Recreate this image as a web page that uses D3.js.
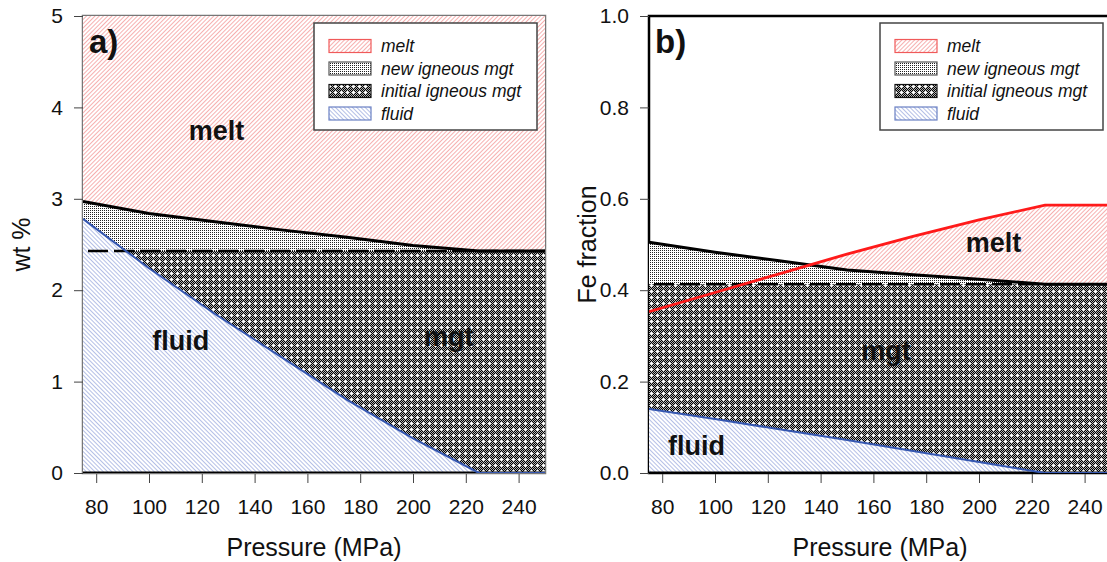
<!DOCTYPE html>
<html>
<head>
<meta charset="utf-8">
<script src="https://cdn.jsdelivr.net/npm/d3@7"></script>
<style>
  body { margin: 0; background: #fff; }
  svg text { font-family: 'Liberation Sans', Arial, sans-serif; fill: #111; }
</style>
</head>
<body>
<div id="app"></div>
<script>
// pressure grid (MPa)
const pressure = [75, 100, 125, 150, 175, 200, 225, 250];

// panel a: wt %
const wtMeltTop = [5, 5, 5, 5, 5, 5, 5, 5];
const wtUpper = [2.97, 2.84, 2.75, 2.66, 2.58, 2.49, 2.43, 2.43];
const wtInitial = [2.43, 2.43, 2.43, 2.43, 2.43, 2.43, 2.43, 2.43];
const wtFluid = [2.78, 2.24, 1.74, 1.27, 0.8, 0.38, 0.0, 0.0];

// panel b: Fe fraction
const feMelt = [0.353, 0.395, 0.437, 0.479, 0.518, 0.554, 0.586, 0.586];
const feUpper = [0.505, 0.483, 0.464, 0.444, 0.434, 0.424, 0.413, 0.413];
const feInitial = [0.413, 0.413, 0.413, 0.413, 0.413, 0.413, 0.413, 0.413];
const feFluid = [0.14, 0.118, 0.095, 0.072, 0.048, 0.024, 0.0, 0.0];

const xTicks = [80, 100, 120, 140, 160, 180, 200, 220, 240];
const wtTicks = [0, 1, 2, 3, 4, 5];
const feTicks = [0, 0.2, 0.4, 0.6, 0.8, 1.0];
const legendLabels = ['melt', 'new igneous mgt', 'initial igneous mgt', 'fluid'];

const svg = d3.select('#app')
  .append('svg')
  .attr('width', 1107)
  .attr('height', 562);

const defs = svg.append('defs');

/**
 * Hatch pattern made of thin rotated stripes
 */
const makeHatch = (id, color, angle) => {
  const pat = defs.append('pattern')
    .attr('id', id)
    .attr('patternUnits', 'userSpaceOnUse')
    .attr('width', 3).attr('height', 3)
    .attr('patternTransform', `rotate(${angle})`);
  pat.append('rect').attr('width', 3).attr('height', 3).attr('fill', '#ffffff');
  pat.append('rect').attr('width', 1).attr('height', 3).attr('fill', color);
};

/**
 * Build the fill patterns used by the areas and the legend
 */
const makePatterns = () => {
  makeHatch('hatch-melt', '#f6b0b0', 45);
  makeHatch('hatch-fluid', '#b4bfe6', -45);

  // stipple for new igneous mgt
  const stip = defs.append('pattern')
    .attr('id', 'dots-new')
    .attr('patternUnits', 'userSpaceOnUse')
    .attr('width', 4).attr('height', 4);
  stip.append('rect').attr('width', 4).attr('height', 4).attr('fill', '#fff');
  [[0, 0], [2, 0], [0, 2], [2, 2]].forEach(([px, py]) => {
    stip.append('rect').attr('x', px).attr('y', py)
      .attr('width', 1).attr('height', 1).attr('fill', '#222');
  });

  // dark checker with white crosses for initial igneous mgt
  const dark = defs.append('pattern')
    .attr('id', 'dots-init')
    .attr('patternUnits', 'userSpaceOnUse')
    .attr('width', 6).attr('height', 6);
  dark.append('rect').attr('width', 6).attr('height', 6).attr('fill', '#000');
  for (let i = 0; i < 6; i++) {
    for (let j = 0; j < 6; j++) {
      if ((i + j) % 2 === 0) {
        dark.append('rect').attr('x', i).attr('y', j)
          .attr('width', 1).attr('height', 1).attr('fill', '#b4b4b4');
      }
    }
  }
  dark.append('rect').attr('x', 2).attr('y', 3).attr('width', 3).attr('height', 1).attr('fill', '#fff');
  dark.append('rect').attr('x', 3).attr('y', 2).attr('width', 1).attr('height', 3).attr('fill', '#fff');
};

/**
 * Draw one panel
 */
const drawPanel = (p) => {
  const top = 16;
  const bottom = 473;
  const width = 462;

  const x = d3.scaleLinear().domain([75, 250]).range([p.left, p.left + width]);
  const y = d3.scaleLinear().domain(p.yDomain).range([bottom, top]);

  const g = svg.append('g').attr('id', p.id);

  defs.append('clipPath')
    .attr('id', `clip-${p.id}`)
    .append('rect')
    .attr('x', p.left).attr('y', top)
    .attr('width', width).attr('height', bottom - top);

  // box first, fills cover its inner half
  g.append('rect')
    .attr('x', p.left).attr('y', top)
    .attr('width', width).attr('height', bottom - top)
    .attr('fill', 'none')
    .attr('stroke', p.boxColor)
    .attr('stroke-width', 2.5);

  const body = g.append('g').attr('clip-path', `url(#clip-${p.id})`);

  const rows = pressure.map((P, i) => ({
    P: P,
    melt: p.melt[i],
    upper: p.upper[i],
    init: p.init[i],
    fluid: p.fluid[i]
  }));

  const area = (key) => d3.area()
    .x((d) => x(d.P))
    .y0(y(0))
    .y1((d) => y(d[key]));
  const line = (key) => d3.line()
    .x((d) => x(d.P))
    .y((d) => y(d[key]));

  body.append('path').attr('d', area('melt')(rows)).attr('fill', 'url(#hatch-melt)');
  body.append('path').attr('d', area('upper')(rows)).attr('fill', 'url(#dots-new)');
  body.append('path').attr('d', area('init')(rows)).attr('fill', 'url(#dots-init)');
  body.append('path').attr('d', area('fluid')(rows)).attr('fill', 'url(#hatch-fluid)');

  body.append('path')
    .attr('d', line('init')(rows))
    .attr('fill', 'none')
    .attr('stroke', '#000')
    .attr('stroke-width', 2.5)
    .attr('stroke-dasharray', '20,6')
    .attr('stroke-dashoffset', -5);

  body.append('path')
    .attr('d', line('upper')(rows))
    .attr('fill', 'none')
    .attr('stroke', '#000')
    .attr('stroke-width', 3);

  // zero line
  body.append('line')
    .attr('x1', x(75)).attr('x2', x(250))
    .attr('y1', y(0)).attr('y2', y(0))
    .attr('stroke', '#000')
    .attr('stroke-width', 3);

  body.append('path')
    .attr('d', line('fluid')(rows))
    .attr('fill', 'none')
    .attr('stroke', '#3557b0')
    .attr('stroke-width', 2);

  if (p.redLine) {
    body.append('path')
      .attr('d', line('melt')(rows))
      .attr('fill', 'none')
      .attr('stroke', '#ff1a1a')
      .attr('stroke-width', 2.8);
  }

  // axes
  const xAxis = g.append('g')
    .attr('transform', `translate(0,${bottom + 1})`)
    .call(d3.axisBottom(x).tickValues(xTicks).tickSize(9).tickPadding(16));
  xAxis.select('.domain').remove();
  xAxis.selectAll('line').attr('stroke', '#444');
  xAxis.selectAll('text')
    .attr('font-size', 21)
    .attr('font-family', "'Liberation Sans', Arial, sans-serif")
    .attr('fill', '#111');

  const yAxis = g.append('g')
    .attr('transform', `translate(${p.left},0)`)
    .call(d3.axisLeft(y).tickValues(p.yTicks).tickSize(9).tickPadding(11).tickFormat(p.fmt));
  yAxis.select('.domain').remove();
  yAxis.selectAll('line').attr('stroke', '#444');
  yAxis.selectAll('text')
    .attr('font-size', 21)
    .attr('font-family', "'Liberation Sans', Arial, sans-serif")
    .attr('fill', '#111');

  // titles
  g.append('text')
    .attr('x', p.left + width / 2)
    .attr('y', 556)
    .attr('text-anchor', 'middle')
    .attr('font-size', 25)
    .text('Pressure (MPa)');

  g.append('text')
    .attr('transform', `translate(${p.left - 53},${(top + bottom) / 2}) rotate(-90)`)
    .attr('text-anchor', 'middle')
    .attr('font-size', 25)
    .text(p.yTitle);

  g.append('text')
    .attr('x', p.left + 6)
    .attr('y', 53)
    .attr('font-size', 33)
    .attr('font-weight', 'bold')
    .text(p.tag);

  p.regionLabels.forEach((r) => {
    g.append('text')
      .attr('x', x(r.P))
      .attr('y', y(r.v))
      .attr('text-anchor', 'middle')
      .attr('font-size', 27)
      .attr('font-weight', 'bold')
      .text(r.text);
  });

  // legend
  const lg = g.append('g').attr('transform', `translate(${p.left + 231},23)`);
  lg.append('rect')
    .attr('width', 223).attr('height', 107)
    .attr('fill', '#fff')
    .attr('stroke', '#444')
    .attr('stroke-width', 1.5);

  const swatchFill = ['url(#hatch-melt)', 'url(#dots-new)', 'url(#dots-init)', 'url(#hatch-fluid)'];
  const swatchStroke = ['#f05a5a', '#555', '#111', '#6a80c4'];
  legendLabels.forEach((label, i) => {
    const cy = 23 + i * 22.5;
    lg.append('rect')
      .attr('x', 15).attr('y', cy - 6.5)
      .attr('width', 42).attr('height', 13)
      .attr('fill', swatchFill[i])
      .attr('stroke', swatchStroke[i])
      .attr('stroke-width', 1.2);
    lg.append('text')
      .attr('x', 67).attr('y', cy + 6)
      .attr('font-size', 17.5)
      .attr('font-style', 'italic')
      .text(label);
  });
};

makePatterns();

drawPanel({
  id: 'pa',
  left: 83,
  boxColor: '#777',
  yDomain: [0, 5],
  yTicks: wtTicks,
  fmt: d3.format('d'),
  yTitle: 'wt %',
  tag: 'a)',
  melt: wtMeltTop,
  upper: wtUpper,
  init: wtInitial,
  fluid: wtFluid,
  redLine: false,
  regionLabels: [
    { text: 'melt', P: 125.6, v: 3.64 },
    { text: 'fluid', P: 112, v: 1.35 },
    { text: 'mgt', P: 213.5, v: 1.39 }
  ]
});

drawPanel({
  id: 'pb',
  left: 649,
  boxColor: '#000',
  yDomain: [0, 1],
  yTicks: feTicks,
  fmt: d3.format('.1f'),
  yTitle: 'Fe fraction',
  tag: 'b)',
  melt: feMelt,
  upper: feUpper,
  init: feInitial,
  fluid: feFluid,
  redLine: true,
  regionLabels: [
    { text: 'melt', P: 205.5, v: 0.484 },
    { text: 'mgt', P: 164.8, v: 0.247 },
    { text: 'fluid', P: 93, v: 0.039 }
  ]
});
</script>
</body>
</html>
